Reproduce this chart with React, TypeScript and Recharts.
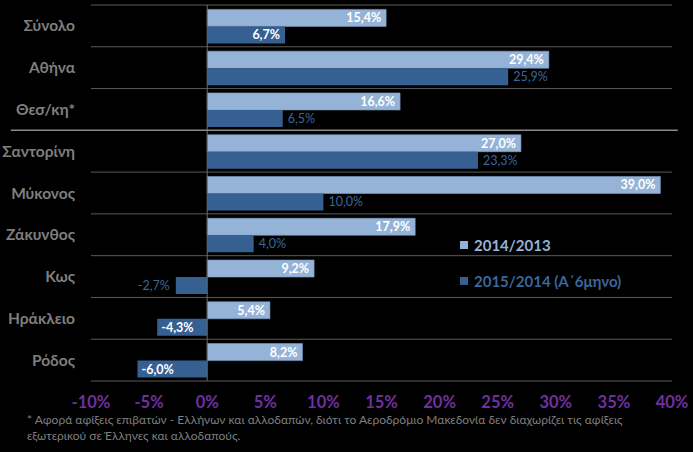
import React from 'react';
import {
  BarChart,
  Bar,
  XAxis,
  YAxis,
  CartesianGrid,
  ReferenceLine,
  LabelList,
  Legend,
} from 'recharts';

const categories = ['Σύνολο', 'Αθήνα', 'Θεσ/κη*', 'Σαντορίνη', 'Μύκονος', 'Ζάκυνθος', 'Κως', 'Ηράκλειο', 'Ρόδος'];
const growth2014 = [15.4, 29.4, 16.6, 27.0, 39.0, 17.9, 9.2, 5.4, 8.2];
const growth2015 = [6.7, 25.9, 6.5, 23.3, 10.0, 4.0, -2.7, -4.3, -6.0];
const xTicks = [-10, -5, 0, 5, 10, 15, 20, 25, 30, 35, 40];
// which dark-series labels sit inside the bar (white) instead of outside (blue)
const darkInside = ['Σύνολο', 'Ηράκλειο', 'Ρόδος'];

const LIGHT = '#95b3d7';
const DARK = '#366092';
const DARK_TEXT = '#3a679c';
const GRAY = '#7f7f7f';
const FONT = 'Lato, "Open Sans", sans-serif';

const data = categories.map((name, i) => ({
  name,
  y2014: growth2014[i],
  y2015: growth2015[i],
}));

const fmt = (v: number) => v.toFixed(1).replace('.', ',') + '%';

const makeLabel = (forceInside: boolean) => (props: any) => {
  const { x, y, width, height, value, index } = props;
  const inside = forceInside || darkInside.includes(categories[index]);
  const neg = value < 0;
  const end = x + width;
  const cy = y + height / 2;
  let tx: number;
  let anchor: 'start' | 'end';
  if (inside) {
    tx = neg ? end + 4 : end - 5;
    anchor = neg ? 'start' : 'end';
  } else {
    tx = neg ? end - 6 : end + 5;
    anchor = neg ? 'end' : 'start';
  }
  return (
    <text
      x={tx}
      y={cy}
      dy="0.36em"
      textAnchor={anchor}
      fill={inside ? '#ffffff' : DARK_TEXT}
      fontWeight={inside ? 700 : 400}
      fontSize={12.5}
      fontFamily={FONT}
    >
      {fmt(value)}
    </text>
  );
};

const LegendContent = () => (
  <div style={{ fontFamily: FONT, fontWeight: 700, fontSize: 15 }}>
    {[
      { label: '2014/2013', color: LIGHT, box: LIGHT },
      { label: '2015/2014 (Α΄6μηνο)', color: DARK_TEXT, box: DARK },
    ].map((item, i) => (
      <div key={i} style={{ display: 'flex', alignItems: 'center', height: 36, color: item.color }}>
        <span style={{ display: 'inline-block', width: 8, height: 8, background: item.box, marginRight: 6 }} />
        {item.label}
      </div>
    ))}
  </div>
);

export default function App() {
  return (
    <div style={{ position: 'absolute', left: 0, top: 0, width: 693, height: 452, background: '#000', overflow: 'hidden' }}>
      <BarChart
        width={693}
        height={452}
        data={data}
        layout="vertical"
        margin={{ top: 5, right: 21, bottom: 41, left: 0 }}
        barCategoryGap="10.5%"
        barGap={0}
      >
        <CartesianGrid
          vertical={false}
          stroke="#5a5a5a"
          horizontalCoordinatesGenerator={({ offset }: any) =>
            Array.from({ length: categories.length + 1 }, (_, i) => offset.top + (i * offset.height) / categories.length).filter((_, i) => i !== 3)
          }
        />
        <XAxis
          type="number"
          domain={[-10, 40]}
          ticks={xTicks}
          tickFormatter={(v) => `${v}%`}
          axisLine={false}
          tickLine={false}
          tickSize={0}
          tickMargin={15}
          height={30}
          interval={0}
          tick={{ fill: '#7030a0', fontSize: 16.5, fontWeight: 700, fontFamily: FONT }}
        />
        <YAxis
          type="category"
          dataKey="name"
          width={91}
          axisLine={false}
          tickLine={false}
          tickSize={0}
          tickMargin={16}
          interval={0}
          tick={{ fill: GRAY, fontSize: 15.5, fontWeight: 700, fontFamily: FONT }}
        />
        <ReferenceLine x={0} stroke="#6a6a6a" />
        <ReferenceLine
          segment={[{ x: -16.9, y: 'Θεσ/κη*' }, { x: 40.5, y: 'Θεσ/κη*' }]}
          position="end"
          ifOverflow="visible"
          stroke="#8a8a8a"
          strokeWidth={1.5}
        />
        <Legend
          layout="vertical"
          verticalAlign="middle"
          align="center"
          content={<LegendContent />}
          wrapperStyle={{ left: 460, top: 227, width: 220 }}
        />
        <Bar dataKey="y2014" name="2014/2013" fill={LIGHT} stroke="#7f9cc4" strokeWidth={0.6} isAnimationActive={false}>
          <LabelList dataKey="y2014" content={makeLabel(true)} />
        </Bar>
        <Bar dataKey="y2015" name="2015/2014 (Α΄6μηνο)" fill={DARK} isAnimationActive={false}>
          <LabelList dataKey="y2015" content={makeLabel(false)} />
        </Bar>
      </BarChart>
      <div
        style={{
          position: 'absolute',
          left: 27,
          top: 412,
          width: 660,
          fontFamily: FONT,
          fontSize: 12,
          lineHeight: '16px',
          color: GRAY,
        }}
      >
        * Αφορά αφίξεις επιβατών - Ελλήνων και αλλοδαπών, διότι το Αεροδρόμιο Μακεδονία δεν διαχωρίζει τις αφίξεις
        <br />
        εξωτερικού σε Έλληνες και αλλοδαπούς.
      </div>
    </div>
  );
}
